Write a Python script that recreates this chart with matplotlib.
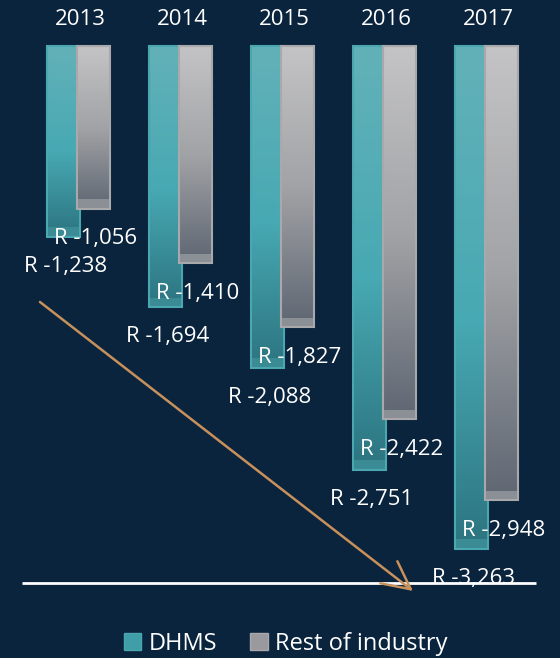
import numpy as np
import matplotlib
matplotlib.use("Agg")
import matplotlib.pyplot as plt
from matplotlib.colors import LinearSegmentedColormap
from matplotlib.patches import Rectangle

# Medical scheme shortfall per beneficiary (Rand)
years = ["2013", "2014", "2015", "2016", "2017"]
dhms = [1238, 1694, 2088, 2751, 3263]
rest = [1056, 1410, 1827, 2422, 2948]
series_names = ["DHMS", "Rest of industry"]

BG = "#0a243d"
plt.rcParams["font.family"] = ["Open Sans", "DejaVu Sans"]

fig = plt.figure(figsize=(5.6, 6.58), dpi=100, facecolor=BG)
ax = fig.add_axes([0, 0, 1, 1])
ax.set_facecolor(BG)
ax.set_xlim(-0.770, 4.725)
ax.set_ylim(-3974, 299)
ax.axis("off")

x = np.arange(len(years))
w = 0.324
off = 0.147

teal_cmap = LinearSegmentedColormap.from_list(
    "teal", [(0, "#63b1b8"), (0.55, "#47a9b3"), (1, "#2c7480")])
grey_cmap = LinearSegmentedColormap.from_list(
    "grey", [(0, "#c4c4c6"), (0.5, "#a2a3a6"), (1, "#5e6672")])
grad = np.linspace(0, 1, 256).reshape(-1, 1)


def gradient_bars(xpos, values, cmap, edge, band, z):
    bars = ax.bar(xpos, [-v for v in values], width=w, color="none",
                  edgecolor=edge, linewidth=1.5, zorder=z + 0.5)
    for p in bars.patches:
        x0, y0 = p.get_x(), p.get_y()
        bw, bh = p.get_width(), p.get_height()
        im = ax.imshow(grad, cmap=cmap, aspect="auto", origin="upper",
                       extent=[x0, x0 + bw, y0 + bh, y0], zorder=z)
        clip = Rectangle((x0, y0), bw, bh, transform=ax.transData)
        im.set_clip_path(clip)
        # lighter strip at the bar end
        ax.add_patch(Rectangle((x0, y0 + bh), bw, 60, facecolor=band,
                               edgecolor="none", zorder=z + 0.2))
    return bars


gradient_bars(x - off, dhms, teal_cmap, "#4aa6af", "#3b8b95", 2)
gradient_bars(x + off, rest, grey_cmap, "#a9a9ac", "#8b8f96", 3)

label_gap = 195
for xi, v in zip(x - off, dhms):
    ax.text(xi + 0.02, -v - label_gap, f"R -{v:,}", color="white",
            fontsize=16, ha="center", va="center", zorder=6)
for xi, v in zip(x + off, rest):
    ax.text(xi + 0.02, -v - label_gap, f"R -{v:,}", color="white",
            fontsize=16, ha="center", va="center", zorder=6)

for xi, yr in zip(x, years):
    ax.text(xi + 0.02, 175, yr, color="white", fontsize=16,
            ha="center", va="center")

# baseline and trend arrow
ax.plot([-0.554, 4.49], [-3487, -3487], color="white", lw=2, zorder=7,
        solid_capstyle="butt")
ax.annotate("", xy=(3.283, -3539), xytext=(-0.378, -1662),
            arrowprops=dict(arrowstyle="->,head_length=1.0,head_width=0.5",
                            color="#c8915c", lw=1.8, mutation_scale=20,
                            shrinkA=0, shrinkB=0), zorder=8)

handles = [Rectangle((0, 0), 1, 1, facecolor="#3f9ea8", edgecolor="#4aa6af"),
           Rectangle((0, 0), 1, 1, facecolor="#9a9a9e", edgecolor="#a9a9ac")]
leg = fig.legend(handles, series_names, loc="center",
                 bbox_to_anchor=(0.51, 1 - 644 / 658), ncol=2, frameon=False,
                 fontsize=17, handlelength=0.75, handleheight=0.75,
                 handletextpad=0.3, columnspacing=1.4)
for t in leg.get_texts():
    t.set_color("white")

fig.savefig("out.png", dpi=100, facecolor=BG)
